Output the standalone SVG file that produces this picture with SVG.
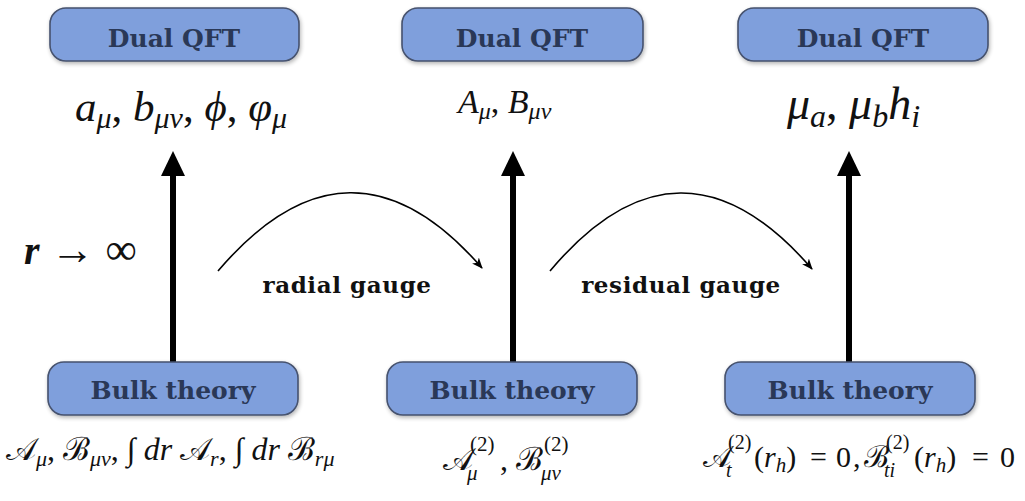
<svg xmlns="http://www.w3.org/2000/svg" width="1025" height="501" viewBox="0 0 1025 501">
<defs>
<style>
.box{fill:#7f9fdc;stroke:#46526e;stroke-width:1.6}
.lbl{font-family:"DejaVu Serif","Liberation Serif",serif;font-weight:bold;font-size:25px;fill:#2a3857;text-anchor:middle}
.m{font-family:"Liberation Serif","DejaVu Serif",serif;font-style:italic;fill:#111}
.u{font-style:normal}
.g{font-family:"DejaVu Serif","Liberation Serif",serif;font-weight:bold;font-size:23px;letter-spacing:0.6px;fill:#111;text-anchor:middle}
.shaft{stroke:#000;stroke-width:6;fill:none}
.curve{stroke:#000;stroke-width:1.6;fill:none}
</style>
<marker id="ah" markerUnits="userSpaceOnUse" markerWidth="12" markerHeight="12" viewBox="0 0 12 12" refX="10" refY="6" orient="auto">
<path d="M0,1.5 L11,6 L0,10.5 L3,6 Z" fill="#000"/>
</marker>
<filter id="sh" x="-10%" y="-20%" width="120%" height="150%">
<feGaussianBlur in="SourceAlpha" stdDeviation="2"/>
<feOffset dx="1" dy="2" result="b"/>
<feComponentTransfer><feFuncA type="linear" slope="0.3"/></feComponentTransfer>
<feMerge><feMergeNode/><feMergeNode in="SourceGraphic"/></feMerge>
</filter>
</defs>

<g id="connectors">
<line class="shaft" x1="173" y1="362" x2="173" y2="174"/>
<polygon points="173,151 161,176 185,176" fill="#000"/>
<line class="shaft" x1="513" y1="362" x2="513" y2="174"/>
<polygon points="513,151 501,176 525,176" fill="#000"/>
<line class="shaft" x1="849" y1="362" x2="849" y2="174"/>
<polygon points="849,151 837,176 861,176" fill="#000"/>
<path class="curve" d="M218,271 Q350,116 482,268" marker-end="url(#ah)"/>
<path class="curve" d="M550,271 Q680,116 812,269" marker-end="url(#ah)"/>
<text class="g" x="347" y="293">radial gauge</text>
<text class="g" x="681" y="293">residual gauge</text>
</g>

<g id="dual1">
<rect class="box" x="50" y="8" width="249" height="53" rx="16" filter="url(#sh)"/>
<text class="lbl" x="174" y="47">Dual QFT</text>
</g>
<g id="dual2">
<rect class="box" x="402" y="8" width="241" height="53" rx="16" filter="url(#sh)"/>
<text class="lbl" x="522" y="47">Dual QFT</text>
</g>
<g id="dual3">
<rect class="box" x="738" y="8" width="250" height="53" rx="16" filter="url(#sh)"/>
<text class="lbl" x="863" y="47">Dual QFT</text>
</g>
<g id="bulk1">
<rect class="box" x="48" y="362" width="250" height="53" rx="16" filter="url(#sh)"/>
<text class="lbl" x="173" y="399">Bulk theory</text>
</g>
<g id="bulk2">
<rect class="box" x="387" y="362" width="250" height="53" rx="16" filter="url(#sh)"/>
<text class="lbl" x="512" y="399">Bulk theory</text>
</g>
<g id="bulk3">
<rect class="box" x="725" y="362" width="250" height="53" rx="16" filter="url(#sh)"/>
<text class="lbl" x="850" y="399">Bulk theory</text>
</g>

<g id="dual1-fields">
<text class="m" x="75" y="121" font-size="43">a<tspan dy="7" font-size="30">μ</tspan><tspan dy="-7" class="u">, </tspan>b<tspan dy="7" font-size="30">μν</tspan><tspan dy="-7" class="u">, </tspan>ϕ<tspan class="u">, </tspan>φ<tspan dy="7" font-size="30">μ</tspan></text>
</g>
<g id="dual2-fields">
<text class="m" x="458" y="113" font-size="34">A<tspan dy="6" font-size="24">μ</tspan><tspan dy="-6" class="u">, </tspan>B<tspan dy="6" font-size="24">μν</tspan></text>
</g>
<g id="dual3-fields">
<text class="m" x="787" y="119" font-size="46">μ<tspan dy="8" font-size="32">a</tspan><tspan dy="-8" class="u">, </tspan>μ<tspan dy="8" font-size="32">b</tspan><tspan dy="-8">h</tspan><tspan dy="8" font-size="32">i</tspan></text>
</g>
<g id="limit">
<text class="m" x="24" y="264" font-size="40" font-weight="bold">r<tspan class="u" font-weight="normal" font-size="44"> → ∞</tspan></text>
</g>

<g id="bulk1-fields">
<text class="m" x="6" y="460" font-size="32"><tspan class="u">𝒜</tspan><tspan dy="6" font-size="22">μ</tspan><tspan dy="-6" class="u">, ℬ</tspan><tspan dy="6" font-size="22">μν</tspan><tspan dy="-6" class="u">, ∫ </tspan>dr <tspan class="u">𝒜</tspan><tspan dy="6" font-size="22">r</tspan><tspan dy="-6" class="u">, ∫ </tspan>dr <tspan class="u">ℬ</tspan><tspan dy="6" font-size="22">rμ</tspan></text>
</g>
<g id="bulk2-fields">
<text class="m u" x="443" y="470" font-size="32">𝒜</text>
<text class="m u" x="470" y="451" font-size="21">(2)</text>
<text class="m" x="467" y="480" font-size="21">μ</text>
<text class="m u" x="500" y="470" font-size="32">,</text>
<text class="m u" x="516" y="470" font-size="32">ℬ</text>
<text class="m u" x="544" y="451" font-size="21">(2)</text>
<text class="m" x="541" y="480" font-size="21">μν</text>
</g>
<g id="bulk3-fields">
<text class="m u" x="703" y="467" font-size="30">𝒜</text>
<text class="m u" x="728" y="449" font-size="20">(2)</text>
<text class="m" x="726" y="477" font-size="20">t</text>
<text class="m" x="754" y="467" font-size="30"><tspan class="u">(</tspan>r<tspan dy="5" font-size="21">h</tspan><tspan dy="-5" class="u">)</tspan><tspan class="u" x="810">=</tspan><tspan class="u" x="836">0</tspan><tspan class="u" x="853">,</tspan></text>
<text class="m u" x="864" y="467" font-size="30">ℬ</text>
<text class="m u" x="886" y="449" font-size="20">(2)</text>
<text class="m" x="884" y="477" font-size="20">ti</text>
<text class="m" x="914" y="467" font-size="30"><tspan class="u">(</tspan>r<tspan dy="5" font-size="21">h</tspan><tspan dy="-5" class="u">)</tspan><tspan class="u" x="972">=</tspan><tspan class="u" x="1000">0</tspan></text>
</g>
</svg>
